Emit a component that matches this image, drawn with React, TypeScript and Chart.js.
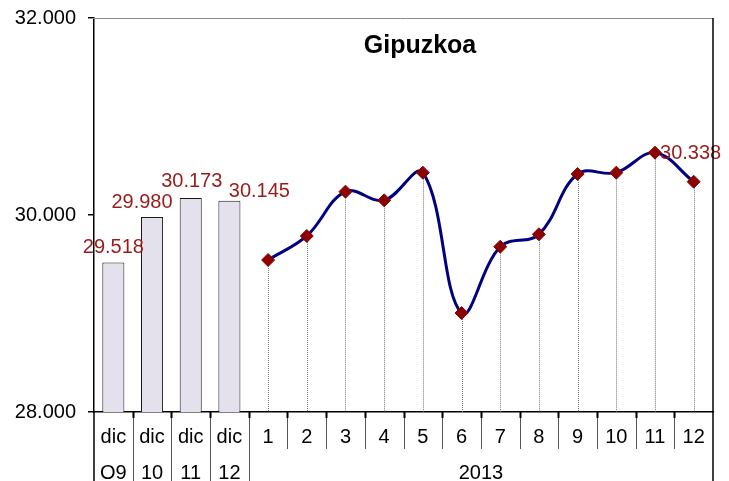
import React, { useEffect, useRef } from "react";
import { Chart, registerables } from "chart.js";

Chart.register(...registerables);

const barCategories = ["dic|O9", "dic|10", "dic|11", "dic|12"];
const monthCategories = ["1", "2", "3", "4", "5", "6", "7", "8", "9", "10", "11", "12"];
const yearLabel = "2013";
const barValues = [29518, 29980, 30173, 30145];
const monthValues = [29543, 29787, 30237, 30149, 30430, 29005, 29678, 29804, 30416, 30430, 30633, 30338];
const yTicks = [28000, 30000, 32000];
const title = "Gipuzkoa";

const FONT = "'Liberation Sans', Arial, sans-serif";
const LABEL_RED = "#9A1B1B";

const fmt = (v: number) => {
  const s = Math.round(v).toString();
  return s.replace(/\B(?=(\d{3})+(?!\d))/g, ".");
};

// label nudges (style only)
const barLabelNudge = [
  [0, -15],
  [-10, -14],
  [1, -16],
  [30, -9],
];
const lastLabelNudge = [-3, -28];

const customPlugin = {
  id: "custom",
  beforeDatasetsDraw(chart: any) {
    const { ctx, chartArea } = chart;
    const meta = chart.getDatasetMeta(1);
    ctx.save();
    ctx.strokeStyle = "#7a7a7a";
    ctx.lineWidth = 1;
    ctx.setLineDash([1, 1]);
    meta.data.forEach((pt: any, i: number) => {
      const v = chart.data.datasets[1].data[i];
      if (v == null) return;
      const x = Math.round(pt.x) + 0.5;
      ctx.beginPath();
      ctx.moveTo(x, pt.y);
      ctx.lineTo(x, chartArea.bottom);
      ctx.stroke();
    });
    ctx.restore();
  },
  afterDatasetsDraw(chart: any) {
    const { ctx } = chart;
    ctx.save();
    ctx.font = `20px ${FONT}`;
    ctx.fillStyle = LABEL_RED;
    ctx.textAlign = "center";
    ctx.textBaseline = "middle";
    const bm = chart.getDatasetMeta(0);
    barValues.forEach((v, i) => {
      const el = bm.data[i];
      const [dx, dy] = barLabelNudge[i];
      ctx.fillText(fmt(v), el.x + dx, el.y + dy);
    });
    const lm = chart.getDatasetMeta(1);
    const lastIdx = barValues.length + monthValues.length - 1;
    const le = lm.data[lastIdx];
    ctx.fillText(fmt(monthValues[monthValues.length - 1]), le.x + lastLabelNudge[0], le.y + lastLabelNudge[1]);
    ctx.restore();
  },
  afterDraw(chart: any) {
    const { ctx, chartArea, scales } = chart;
    const xs = scales.x;
    const bottom = chart.height;
    ctx.save();
    // top border (gray)
    ctx.strokeStyle = "#8c8c8c";
    ctx.lineWidth = 1;
    ctx.beginPath();
    ctx.moveTo(chartArea.left - 6, chartArea.top + 0.5);
    ctx.lineTo(chartArea.right, chartArea.top + 0.5);
    ctx.stroke();
    // right border
    ctx.strokeStyle = "#000";
    ctx.lineWidth = 1.5;
    ctx.beginPath();
    ctx.moveTo(chartArea.right, chartArea.top);
    ctx.lineTo(chartArea.right, bottom);
    ctx.stroke();
    // left axis extension
    ctx.beginPath();
    ctx.moveTo(chartArea.left, chartArea.bottom);
    ctx.lineTo(chartArea.left, bottom);
    ctx.stroke();

    const n = chart.data.labels.length;
    const half = (xs.getPixelForValue(1) - xs.getPixelForValue(0)) / 2;
    // separators
    for (let i = 1; i < n; i++) {
      const x = Math.round(xs.getPixelForValue(i) - half) + 0.5;
      const full = i <= barValues.length;
      ctx.strokeStyle = "#555";
      ctx.lineWidth = 1;
      ctx.beginPath();
      ctx.moveTo(x, chartArea.bottom);
      ctx.lineTo(x, full ? bottom : chartArea.bottom + 37);
      ctx.stroke();
      ctx.strokeStyle = "#000";
      ctx.lineWidth = 2;
      ctx.beginPath();
      ctx.moveTo(x, chartArea.bottom);
      ctx.lineTo(x, chartArea.bottom + 6);
      ctx.stroke();
    }
    // labels
    ctx.fillStyle = "#000";
    ctx.font = `20px ${FONT}`;
    ctx.textAlign = "center";
    ctx.textBaseline = "middle";
    const row1 = chartArea.bottom + 25;
    const row2 = chartArea.bottom + 61;
    chart.data.labels.forEach((lab: string, i: number) => {
      const x = xs.getPixelForValue(i);
      const parts = lab.split("|");
      ctx.fillText(parts[0], x, row1);
      if (parts[1]) ctx.fillText(parts[1], x, row2);
    });
    const x0 = xs.getPixelForValue(barValues.length) - half;
    const x1 = xs.getPixelForValue(n - 1) + half;
    ctx.fillText(yearLabel, (x0 + x1) / 2, row2);

    // title
    ctx.font = `bold 25px ${FONT}`;
    ctx.fillText(title, 420, 46);
    ctx.restore();
  },
};

export default function App() {
  const ref = useRef<HTMLCanvasElement | null>(null);
  useEffect(() => {
    if (!ref.current) return;
    const labels = [...barCategories, ...monthCategories];
    const barData = [...barValues, ...monthCategories.map(() => null)];
    const lineData = [...barCategories.map(() => null), ...monthValues];
    const chart = new Chart(ref.current, {
      type: "bar",
      data: {
        labels,
        datasets: [
          {
            type: "bar",
            data: barData as any,
            backgroundColor: "#E4E0EC",
            borderColor: "#1a1a1a",
            borderWidth: 1,
            barPercentage: 0.57,
            categoryPercentage: 1,
            order: 2,
          },
          {
            type: "line",
            data: lineData as any,
            borderColor: "#000080",
            borderWidth: 3,
            tension: 0.38,
            pointStyle: "rectRot",
            pointRadius: 6.5,
            pointBackgroundColor: "#8B0000",
            pointBorderColor: "#8B0000",
            pointBorderWidth: 1,
            fill: false,
            order: 1,
          },
        ],
      },
      options: {
        responsive: false,
        animation: false,
        layout: { padding: { top: 18, right: 16, left: 0, bottom: 0 } },
        plugins: { legend: { display: false }, tooltip: { enabled: false }, title: { display: false } },
        scales: {
          x: {
            offset: true,
            grid: { display: false },
            ticks: { display: false },
            border: { display: true, color: "#000", width: 1.5 },
            afterFit: (s: any) => {
              s.height = 69;
              s.paddingLeft = 0;
              s.paddingRight = 0;
            },
          },
          y: {
            min: 28000,
            max: 32000,
            afterBuildTicks: (s: any) => {
              s.ticks = yTicks.map((v) => ({ value: v }));
            },
            ticks: {
              color: "#000",
              font: { family: FONT, size: 20 },
              padding: 12,
              callback: (v: any) => fmt(Number(v)),
            },
            grid: { drawOnChartArea: false, drawTicks: true, tickLength: 6, color: "#000", lineWidth: 1.5 },
            border: { display: true, color: "#000", width: 1.5 },
            afterFit: (s: any) => {
              s.width = 94;
              s.paddingTop = 0;
              s.paddingBottom = 0;
            },
          },
        },
      },
      plugins: [customPlugin],
    });
    return () => chart.destroy();
  }, []);
  return (
    <div style={{ position: "absolute", left: 0, top: 0, width: 729, height: 481, background: "#fff" }}>
      <canvas ref={ref} width={729} height={481} style={{ display: "block" }} />
    </div>
  );
}
